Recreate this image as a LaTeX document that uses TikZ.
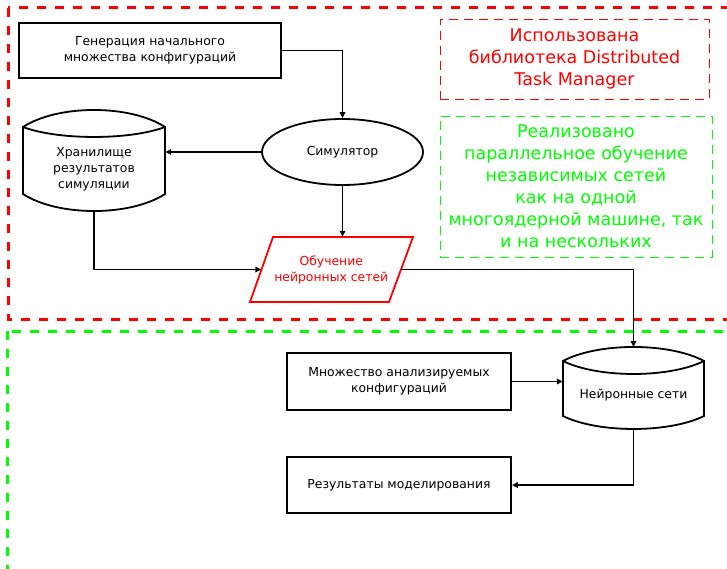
\documentclass[tikz,border=0pt]{standalone}
\usepackage{fontspec}
\setmainfont{DejaVu Sans}
\usetikzlibrary{arrows.meta,calc,shapes.geometric}
\definecolor{limeg}{RGB}{0,255,0}
\definecolor{redd}{RGB}{255,0,0}
\begin{document}
\begin{tikzpicture}[x=1pt,y=-1pt,
  txt/.style={inner sep=0pt, align=center, font=\fontsize{12.4}{16}\selectfont},
  box/.style={txt, draw, line width=1.8pt},
  shp/.style={draw, line width=1.8pt},
  arr/.style={line width=1.5pt, -{Triangle[length=6pt,width=5.5pt]}},
  bigtxt/.style={inner sep=0pt, align=center, line width=0.9pt, dash pattern=on 9pt off 6pt, font=\fontsize{17.5}{22}\selectfont},
  frame/.style={line width=3pt, dash pattern=on 9pt off 9pt}]
\useasboundingbox (0,0) rectangle (727,569);
\clip (0,0) rectangle (727,569);

% group frames
\draw[frame, redd] (8,8) rectangle (760,319);
\draw[frame, limeg] (7,331) rectangle (760,620);

% nodes
\node[box, minimum width=262pt, minimum height=55pt] (gen) at (150,50.5) {Генерация начального\\множества конфигураций};
\node[txt, draw, ellipse, line width=1.8pt, minimum width=161pt, minimum height=66pt] (sim) at (342.5,152) {Симулятор};
\node[txt, minimum width=142pt, minimum height=84pt] (store) at (94,169) {Хранилище\\результатов\\симуляции};
\node[txt, text=redd, minimum width=139.5pt, minimum height=65pt] (train) at (331.25,269.5) {Обучение\\нейронных сетей};
\node[txt, minimum width=141pt, minimum height=68pt] (nn) at (633.5,395) {Нейронные сети};
\coordinate (nntop) at (633.5,347);
\node[box, minimum width=224pt, minimum height=57pt] (mn) at (399,381.5) {Множество анализируемых\\конфигураций};
\node[box, minimum width=224pt, minimum height=56pt] (res) at (399,485) {Результаты моделирования};

\node[bigtxt, draw=redd, text=redd, minimum width=269pt, minimum height=80pt] (dtm) at (574.5,59) {Использована\\библиотека Distributed\\Task Manager};
\node[bigtxt, draw=limeg, text=limeg, minimum width=272pt, minimum height=141pt] (par) at (576,186.5) {Реализовано\\параллельное обучение\\независимых сетей\\как на одной\\многоядерной машине, так\\и на нескольких};

% custom shapes
\draw[shp] (23,127) .. controls (58,104.3) and (130,104.3) .. (165,127) -- (165,194) .. controls (130,216.7) and (58,216.7) .. (23,194) -- cycle;
\draw[shp] (23,127) .. controls (58,140.3) and (130,140.3) .. (165,127);
\draw[shp] (563,361) .. controls (598,342.3) and (669,342.3) .. (704,361) -- (704,416) .. controls (669,433.3) and (598,433.3) .. (563,416) -- cycle;
\draw[shp] (563,361) .. controls (598,378.3) and (669,378.3) .. (704,361);
\draw[shp, redd] (273,237) -- (413,237) -- (389,302) -- (250,302) -- cycle;

% connectors
\draw[arr] (gen.east) -| (sim.north);
\draw[arr] (sim.west) -- (sim.west -| store.east);
\draw[arr] (sim.south) -- (sim.south |- train.north);
\draw[arr] (store.south) |- (train.west);
\draw[arr] (train.east) -| (nntop);
\draw[arr] (mn.east) -- (mn.east -| nn.west);
\draw[arr] (nn.south) |- (res.east);
\end{tikzpicture}
\end{document}
